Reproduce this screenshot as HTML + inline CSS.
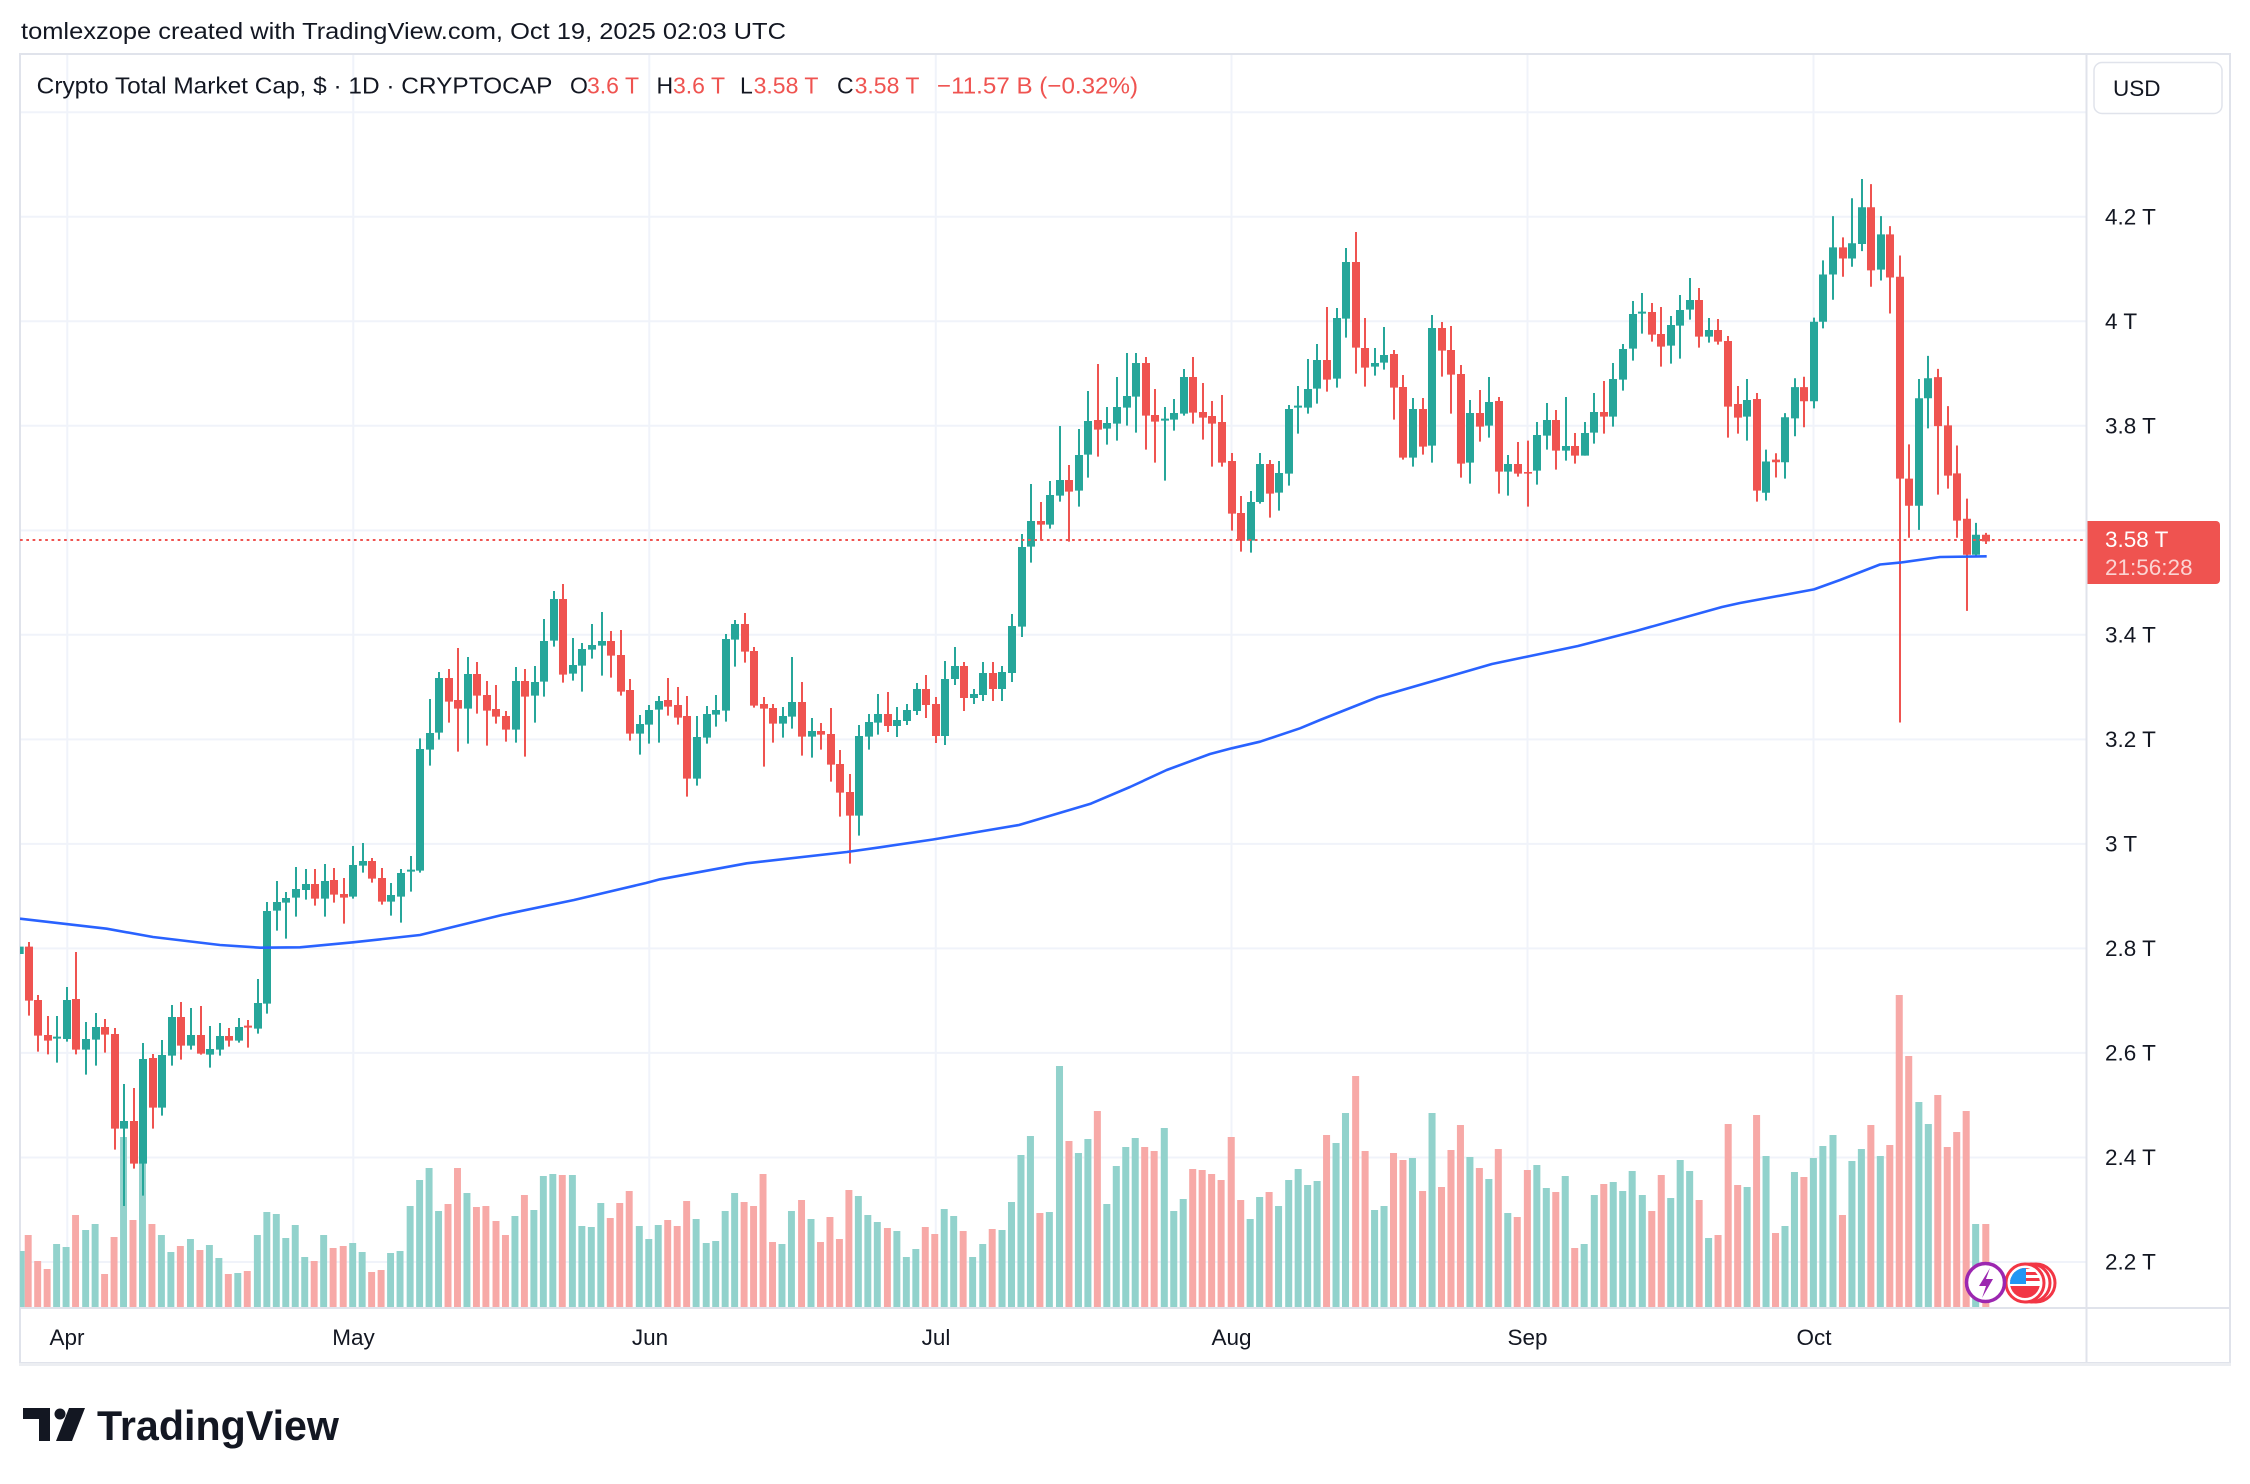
<!DOCTYPE html>
<html><head><meta charset="utf-8"><style>html,body{margin:0;padding:0;background:#fff}svg{display:block}</style></head>
<body>
<svg width="2250" height="1484" viewBox="0 0 2250 1484" xmlns="http://www.w3.org/2000/svg" font-family="'Liberation Sans', Arial, sans-serif">
<defs>
<clipPath id="pane"><rect x="20" y="54" width="2066" height="1253"/></clipPath>
<clipPath id="flagc"><circle cx="2025" cy="1283" r="15"/></clipPath>
</defs>
<rect width="2250" height="1484" fill="#fff"/>
<text x="21" y="39" font-size="23" fill="#131722" textLength="765" lengthAdjust="spacingAndGlyphs">tomlexzope created with TradingView.com, Oct 19, 2025 02:03 UTC</text>

<!-- grid -->
<g stroke="#f0f3fa" stroke-width="2">
<path d="M20 112.2H2086M20 216.7H2086M20 321.2H2086M20 425.8H2086M20 530.4H2086M20 634.8H2086M20 739.4H2086M20 843.9H2086M20 948.4H2086M20 1052.9H2086M20 1157.5H2086M20 1262H2086"/>
<path d="M67.3 54V1307M353.3 54V1307M649.3 54V1307M935.8 54V1307M1231.5 54V1307M1527.5 54V1307M1813.5 54V1307"/>
</g>
<!-- frame -->
<g fill="none" stroke="#e0e3eb" stroke-width="2">
<rect x="20" y="54" width="2210" height="1309"/>
<path d="M2086.5 54V1363M20 1308H2230"/>
</g>
<path d="M19 1364.5H2231" stroke="#eceef2" stroke-width="3"/>

<g clip-path="url(#pane)" fill="none">
<!-- volume -->
<g transform="translate(20 1040) scale(0.6313 0.33333)" stroke-width="11">
<path stroke="#92d2cc" d="M2 633V801M58 612V801M73 621V801M104 570V801M119 552V801M164 291V801M194 330V801M224 585V801M239 636V801M270 597V801M300 615V801M315 654V801M345 699V801M376 585V801M391 516V801M406 522V801M421 594V801M436 555V801M451 651V801M481 585V801M527 609V801M542 636V801M587 639V801M602 633V801M618 498V801M633 420V801M648 384V801M663 513V801M708 459V801M784 528V801M814 510V801M829 408V801M844 402V801M875 405V801M890 558V801M905 561V801M920 489V801M981 558V801M996 597V801M1011 555V801M1071 537V801M1087 609V801M1102 603V801M1117 513V801M1132 459V801M1207 612V801M1222 513V801M1253 537V801M1328 468V801M1343 525V801M1358 546V801M1389 573V801M1404 651V801M1419 627V801M1464 507V801M1479 528V801M1509 651V801M1525 612V801"/>
<path stroke="#f7a9a7" d="M13 585V801M28 663V801M43 687V801M88 525V801M134 702V801M149 591V801M179 540V801M209 552V801M254 618V801M285 630V801M330 702V801M360 693V801M466 663V801M496 624V801M512 618V801M557 696V801M572 690V801M678 492V801M693 384V801M723 501V801M738 498V801M754 543V801M769 585V801M799 465V801M859 405V801M935 534V801M950 489V801M965 453V801M1026 540V801M1041 558V801M1056 483V801M1147 486V801M1162 498V801M1177 402V801M1192 606V801M1238 480V801M1268 606V801M1283 531V801M1298 597V801M1313 450V801M1374 564V801M1434 561V801M1449 582V801M1494 573V801M1540 567V801"/>
</g>
<g transform="translate(1000 980) scale(0.67613 0.33333)" stroke-width="10.4">
<path stroke="#92d2cc" d="M3 750V981M17 666V981M31 525V981M45 468V981M73 696V981M88 258V981M116 519V981M130 477V981M158 672V981M172 558V981M186 501V981M200 474V981M243 444V981M257 693V981M271 657V981M370 717V981M384 651V981M412 678V981M427 600V981M441 567V981M455 615V981M469 603V981M497 489V981M511 399V981M554 690V981M568 678V981M610 534V981M639 399V981M695 531V981M723 597V981M751 699V981M794 555V981M808 624V981M836 588V981M864 792V981M879 645V981M907 606V981M921 633V981M935 573V981M950 645V981M992 654V981M1006 540V981M1020 573V981M1048 774V981M1105 621V981M1133 528V981M1161 738V981M1175 576V981M1203 534V981M1217 498V981M1232 465V981M1260 543V981M1274 507V981M1302 528V981M1359 366V981M1373 432V981M1443 732V981"/>
<path stroke="#f7a9a7" d="M59 699V981M102 483V981M144 393V981M214 501V981M228 513V981M285 567V981M299 570V981M313 582V981M327 600V981M342 471V981M356 660V981M398 636V981M483 465V981M526 288V981M540 513V981M582 519V981M596 540V981M625 633V981M653 621V981M667 510V981M681 435V981M709 564V981M737 507V981M765 711V981M780 570V981M822 636V981M850 804V981M893 612V981M964 693V981M978 585V981M1034 660V981M1062 765V981M1077 432V981M1091 615V981M1119 405V981M1147 759V981M1189 591V981M1246 705V981M1288 435V981M1316 495V981M1330 45V981M1344 228V981M1387 345V981M1401 501V981M1415 456V981M1429 393V981M1458 732V981"/>
</g>

<!-- candles segment 1 -->
<g transform="translate(20 830) scale(0.33333)">
<path stroke="#26a69a" stroke-width="6" d="M111 558V698M141 471V635M198 576V734M228 549V707M312 762V1128M369 639V1097M426 630V857M456 525V707M513 534V659M570 588V713M600 579V677M657 564V638M714 447V611M741 216V551M771 153V302M798 186V326M828 111V260M858 117V209M915 102V260M999 48V206M1029 39V128M1113 159V257M1143 117V278M1173 78V185"/>
<path stroke="#26a69a" stroke-width="24" d="M-1 350V372M111 620V626M141 510V627M198 627V659M228 591V629M312 873V896M369 687V1001M426 675V833M456 561V677M513 615V647M570 657V674M600 618V659M657 591V632M714 519V596M741 243V521M771 216V242M798 204V218M828 177V203M858 162V180M915 153V206M999 105V200M1029 93V107M1113 195V215M1143 129V200M1173 119V125"/>
<path stroke="#ef5350" stroke-width="6" d="M27 336V557M54 495V665M84 558V673M168 366V673M255 567V668M285 594V959M342 774V1016M399 672V896M483 516V689M543 528V674M627 594V650M684 570V653M885 117V227M942 114V218M972 144V281M1056 84V158M1086 114V224"/>
<path stroke="#ef5350" stroke-width="24" d="M27 350V512M54 510V617M84 615V632M168 507V659M255 591V614M285 612V896M342 873V1001M399 684V833M483 561V647M543 615V671M627 618V632M684 587V593M885 162V206M942 150V194M972 192V203M1056 93V146M1086 144V215"/>
</g>
<!-- segment 2 -->
<g transform="translate(380 560) scale(0.33333)">
<path stroke="#26a69a" stroke-width="6" d="M120 535V938M150 417V617M177 336V539M264 291V551M408 321V548M465 318V488M492 177V410M522 93V260M579 234V362M606 249V395M636 192V296M666 156V347M780 465V584M807 435V551M837 408V548M951 468V677M981 438V551M1008 405V500M1038 222V485M1065 180V320M1209 441V533M1236 291V506M1296 474V593M1437 495V827M1467 462V569M1494 402V524"/>
<path stroke="#26a69a" stroke-width="24" d="M120 567V932M150 519V569M177 354V518M264 342V446M408 363V509M465 366V407M492 243V365M522 117V242M579 315V341M606 267V317M636 255V269M666 243V257M780 492V521M807 450V494M837 423V449M951 531V656M981 462V533M1008 450V464M1038 237V452M1065 192V239M1209 468V491M1236 426V470M1296 513V530M1437 528V767M1467 486V530M1494 462V488"/>
<path stroke="#ef5350" stroke-width="6" d="M207 327V488M234 264V575M291 306V461M321 363V557M348 375V491M378 453V545M435 327V590M549 72V368M693 213V353M723 210V407M750 357V542M864 354V467M894 381V494M921 408V710M1095 159V308M1122 261V443M1152 411V620M1179 432V548M1266 366V587M1323 489V569M1353 444V665M1380 570V770M1410 642V911"/>
<path stroke="#ef5350" stroke-width="24" d="M207 354V425M234 420V446M291 342V407M321 405V452M348 447V470M378 468V509M435 363V410M549 117V344M693 243V287M723 285V395M750 390V521M864 420V440M894 435V473M921 468V656M1095 192V275M1122 273V437M1152 432V446M1179 444V491M1266 426V530M1323 513V524M1353 522V614M1380 612V698M1410 696V767"/>
</g>
<!-- segment 3 -->
<g transform="translate(860 330) scale(0.33333)">
<path stroke="#26a69a" stroke-width="6" d="M111 1131V1221M141 1122V1185M171 1059V1155M255 993V1245M285 951V1065M342 1077V1122M369 996V1113M426 1008V1113M456 852V1056M486 612V921M513 462V698M570 453V596M600 288V515M657 297V530M684 183V443M741 231V344M771 141V332M801 69V287M828 69V308M915 231V452M942 207V302M972 117V257M1173 483V668M1200 369V521M1257 393V542M1287 225V467"/>
<path stroke="#26a69a" stroke-width="24" d="M111 1170V1188M141 1140V1173M171 1077V1143M255 1047V1218M285 1008V1047M342 1092V1104M369 1029V1095M426 1026V1077M456 888V1029M486 651V890M513 573V650M570 495V584M600 450V497M657 375V482M684 273V374M741 279V296M771 231V281M801 198V233M828 99V200M915 266V272M942 249V269M972 141V251M1173 516V632M1200 402V516M1257 429V488M1287 237V431"/>
<path stroke="#ef5350" stroke-width="6" d="M84 1086V1206M198 1035V1164M228 1101V1239M312 996V1143M399 996V1113M543 516V632M627 405V635M714 102V380M858 81V359M885 177V398M999 81V281M1029 159V329M1056 213V410M1086 195V410M1116 369V602M1143 498V665M1230 390V563"/>
<path stroke="#ef5350" stroke-width="24" d="M84 1152V1188M198 1077V1125M228 1122V1218M312 1008V1104M399 1029V1077M543 573V584M627 450V485M714 270V299M858 99V257M885 255V275M999 141V248M1029 246V263M1056 258V281M1086 276V398M1116 393V551M1143 549V632M1230 402V491"/>
</g>
<!-- segment 4 -->
<g transform="translate(1290 200) scale(0.33333)">
<path stroke="#26a69a" stroke-width="6" d="M24 558V701M54 477V641M81 432V611M141 324V563M168 144V413M255 444V527M282 381V509M369 594V800M426 345V788M540 600V851M597 531V713M654 765V887M741 666V854M771 609V749M828 591V782M885 666V767M912 579V731M969 489V680M999 432V572M1029 303V482M1056 279V401M1143 348V491M1170 285V476M1200 234V359M1257 354V428M1371 537V722"/>
<path stroke="#26a69a" stroke-width="24" d="M24 617V623M54 567V623M81 480V566M141 354V536M168 186V356M255 489V500M282 465V488M369 627V773M426 384V737M540 639V788M597 606V677M654 792V815M741 705V812M771 660V707M828 738V752M885 699V767M912 636V698M969 537V650M999 447V539M1029 342V446M1056 335V341M1143 375V437M1170 330V377M1200 300V329M1257 390V410M1371 600V650"/>
<path stroke="#ef5350" stroke-width="6" d="M111 321V575M198 96V521M225 354V560M312 450V659M339 525V779M399 594V764M456 366V530M483 378V641M513 495V833M570 570V725M627 591V881M684 726V830M714 722V920M798 630V809M855 699V791M942 543V701M1086 309V425M1113 321V500M1227 264V443M1284 357V434M1314 408V713M1344 558V701M1401 579V905"/>
<path stroke="#ef5350" stroke-width="24" d="M111 480V539M198 186V443M225 444V503M312 462V563M339 561V773M399 627V740M456 384V452M483 450V524M513 522V791M570 639V680M627 603V815M684 792V821M714 816V821M798 660V752M855 738V767M942 636V650M1086 336V404M1113 402V440M1227 300V410M1284 390V425M1314 423V620M1344 612V653M1401 597V872"/>
</g>
<!-- segment 5 -->
<g transform="translate(1740 160) scale(0.33333 0.37175)">
<path stroke="#26a69a" stroke-width="6" d="M78 779V916M135 681V857M165 587V743M222 424V668M249 270V453M279 151V376M336 103V287M366 51V245M423 151V324M537 589V995M564 527V722M708 976V1068"/>
<path stroke="#26a69a" stroke-width="24" d="M78 811V895M135 692V813M165 611V695M222 435V649M249 308V435M279 235V308M336 224V265M366 127V226M423 200V295M537 641V930M564 587V641M708 1008V1062"/>
<path stroke="#ef5350" stroke-width="6" d="M108 789V854M192 583V719M309 208V314M393 65V341M450 178V413M480 257V1513M507 765V1016M594 562V900M624 662V884M651 768V1016M681 911V1213M738 1003V1033"/>
<path stroke="#ef5350" stroke-width="24" d="M108 806V813M192 611V649M309 235V265M393 127V297M450 200V316M480 314V857M507 857V930M594 584V716M624 714V849M651 843V970M681 965V1062M738 1008V1026"/>
</g>

<!-- MA -->
<polyline fill="none" stroke="#2962ff" stroke-width="2.6" stroke-linejoin="round" points="20,918.7 106.7,928.7 153,937 220,945 260,947.7 300,947.3 353,942.3 420,935 502,915 574,900 646,883 660,879.3 746.7,863.3 846.7,852 880,847.3 933,839.5 1019,825 1091,803.6 1130,787 1166.7,770 1210,754 1231.7,748.3 1260,741.7 1300,728.3 1320,720 1378,697 1492,664 1578,646 1636,631 1722,607 1740,603 1814,589.4 1840,580 1880,564.5 1900,562.6 1940,557 1986.7,556.3"/>
<!-- price line -->
<path d="M20 540H2086" stroke="#ef5350" stroke-width="2" stroke-dasharray="2.7 3.6"/>
</g>

<!-- event icons -->
<circle cx="2036" cy="1283" r="19" fill="#fff" stroke="#f23645" stroke-width="3"/>
<circle cx="2031" cy="1283" r="19" fill="#fff" stroke="#f23645" stroke-width="3"/>
<circle cx="2025" cy="1283" r="19" fill="#fff" stroke="#f23645" stroke-width="3"/>
<g clip-path="url(#flagc)">
<rect x="2008" y="1266" width="34" height="34" fill="#fff"/>
<rect x="2008" y="1266" width="34" height="3" fill="#f23645"/>
<rect x="2008" y="1272" width="34" height="3" fill="#f23645"/>
<rect x="2008" y="1278" width="34" height="3" fill="#f23645"/>
<rect x="2008" y="1286" width="34" height="14" fill="#f23645"/>
<rect x="2008" y="1266" width="18" height="18" fill="#2196f3"/>
</g>
<circle cx="1985.5" cy="1282.5" r="19" fill="#fff" stroke="#9c27b0" stroke-width="3.5"/>
<polygon points="1990,1268 1979,1286 1986,1286 1982,1298 1993,1279 1986,1279" fill="#9c27b0"/>

<!-- price axis -->
<g font-size="22.5" fill="#131722">
<text x="2105" y="224.5">4.2 T</text>
<text x="2105" y="329">4 T</text>
<text x="2105" y="433.5">3.8 T</text>
<text x="2105" y="642.5">3.4 T</text>
<text x="2105" y="747">3.2 T</text>
<text x="2105" y="851.5">3 T</text>
<text x="2105" y="956">2.8 T</text>
<text x="2105" y="1060.5">2.6 T</text>
<text x="2105" y="1165">2.4 T</text>
<text x="2105" y="1269.5">2.2 T</text>
</g>
<rect x="2094" y="62.5" width="128" height="51" rx="8" fill="#fff" stroke="#e0e3eb" stroke-width="1.5"/>
<text x="2113" y="96" font-size="22.5" fill="#131722">USD</text>
<path d="M2087.5 521H2216a4 4 0 0 1 4 4V580a4 4 0 0 1 -4 4H2087.5Z" fill="#ef5350"/>
<text x="2105" y="547" font-size="22.5" fill="#fff">3.58 T</text>
<text x="2105" y="575" font-size="22.5" fill="#fff" fill-opacity="0.75">21:56:28</text>

<!-- legend -->
<g font-size="23">
<text x="36.7" y="93.5" fill="#131722" textLength="515.7" lengthAdjust="spacingAndGlyphs">Crypto Total Market Cap, $ · 1D · CRYPTOCAP</text>
<text x="570" y="93.5" fill="#131722">O</text><text x="587" y="93.5" fill="#ef5350">3.6 T</text>
<text x="656.5" y="93.5" fill="#131722">H</text><text x="673" y="93.5" fill="#ef5350">3.6 T</text>
<text x="740" y="93.5" fill="#131722">L</text><text x="753.6" y="93.5" fill="#ef5350">3.58 T</text>
<text x="837" y="93.5" fill="#131722">C</text><text x="854.6" y="93.5" fill="#ef5350">3.58 T</text>
<text x="937" y="93.5" fill="#ef5350" textLength="201" lengthAdjust="spacingAndGlyphs">−11.57 B (−0.32%)</text>
</g>

<!-- time axis -->
<g font-size="22.5" fill="#131722" text-anchor="middle">
<text x="67" y="1345">Apr</text>
<text x="353.5" y="1345">May</text>
<text x="650" y="1345">Jun</text>
<text x="936" y="1345">Jul</text>
<text x="1231.5" y="1345">Aug</text>
<text x="1527.5" y="1345">Sep</text>
<text x="1814" y="1345">Oct</text>
</g>

<!-- footer logo -->
<g fill="#131722">
<path d="M23 1408H50V1441H39V1419H23Z"/>
<circle cx="60" cy="1414" r="5.5"/>
<path d="M69 1408H85L72 1441H56Z"/>
<text x="97" y="1440" font-size="42" font-weight="bold" textLength="242" lengthAdjust="spacingAndGlyphs">TradingView</text>
</g>
</svg>
</body></html>
